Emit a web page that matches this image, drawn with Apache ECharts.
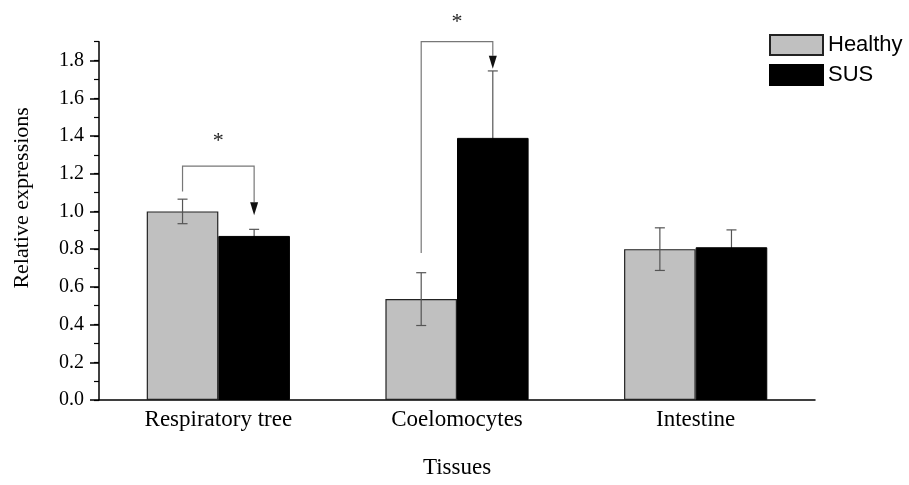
<!DOCTYPE html>
<html>
<head>
<meta charset="utf-8">
<script src="https://cdn.jsdelivr.net/npm/echarts@6/dist/echarts.min.js"></script>
<style>html,body{margin:0;padding:0;background:#fff;}#chart{width:909px;height:485px;}</style>
</head>
<body>
<div id="chart"></div>
<script>
// ---- data ----
const categories = ['Respiratory tree', 'Coelomocytes', 'Intestine'];
const healthy = [1.00, 0.535, 0.80];
const healthyErr = [0.065, 0.14, 0.113];
const sus = [0.87, 1.39, 0.81];
const susErr = [0.035, 0.355, 0.092];
const yTickValues = [0, 0.2, 0.4, 0.6, 0.8, 1.0, 1.2, 1.4, 1.6, 1.8];
// significance brackets: category index, bracket height, left line end, arrow tip, star height
const sigCategory = [0, 1];
const sigBracketTop = [1.24, 1.9];
const sigLeftEnd = [1.105, 0.78];
const sigArrowTip = [0.98, 1.756];
const sigStarY = [1.39, 2.02];
const sigLabel = ['*', '*'];

const BAR_FRAC = 0.30;
const serif = '"Liberation Serif", "Times New Roman", serif';
const sans = '"Liberation Sans", Arial, sans-serif';

function errData(vals, errs) {
  return vals.map((v, i) => [i, v, errs[i]]);
}
function makeErrRender(sign) {
  return function (params, api) {
    const i = api.value(0), v = api.value(1), e = api.value(2);
    const band = api.size([1, 0])[0];
    const c = api.coord([i, v]);
    const x = c[0] + sign * band * BAR_FRAC / 2;
    const top = api.coord([i, v + e])[1];
    const bot = api.coord([i, v - e])[1];
    const hw = 5;
    const st = { stroke: '#555', lineWidth: 1.2 };
    return {
      type: 'group',
      children: [
        { type: 'line', shape: { x1: x, y1: top, x2: x, y2: bot }, style: st },
        { type: 'line', shape: { x1: x - hw, y1: top, x2: x + hw, y2: top }, style: st },
        { type: 'line', shape: { x1: x - hw, y1: bot, x2: x + hw, y2: bot }, style: st }
      ]
    };
  };
}
const sigData = sigCategory.map((c, k) => [c, sigBracketTop[k], sigLeftEnd[k], sigArrowTip[k], sigStarY[k], k]);

const chart = echarts.init(document.getElementById('chart'), null, { renderer: 'canvas' });
chart.setOption({
  animation: false,
  backgroundColor: '#fff',
  grid: { left: 99, right: 94, top: 41.7, bottom: 85, containLabel: false },
  legend: {
    left: 769, top: 34, orient: 'vertical', padding: 0,
    itemWidth: 53, itemHeight: 20, itemGap: 8,
    icon: 'rect',
    textStyle: { fontFamily: sans, fontSize: 22, color: '#000' },
    data: ['Healthy', 'SUS']
  },
  xAxis: {
    type: 'category', data: categories,
    name: 'Tissues', nameLocation: 'middle', nameGap: 56,
    nameTextStyle: { fontFamily: serif, fontSize: 23, color: '#000' },
    axisLine: { lineStyle: { color: '#000', width: 1.5 } },
    axisTick: { show: false },
    axisLabel: { fontFamily: serif, fontSize: 23, color: '#000', margin: 8 },
    splitLine: { show: false }
  },
  yAxis: [{
    type: 'value', min: 0, max: 1.9, interval: 0.1, position: 'left',
    name: 'Relative expressions', nameLocation: 'middle', nameGap: 66, nameRotate: 90,
    nameTextStyle: { fontFamily: serif, fontSize: 22, color: '#000', padding: [0, 0, 0, 46] },
    axisLine: { show: true, lineStyle: { color: '#000', width: 1.5 } },
    axisTick: { show: true, customValues: yTickValues, length: 9, lineStyle: { color: '#000', width: 1.5 } },
    axisLabel: { customValues: yTickValues, formatter: v => Number(v).toFixed(1), fontFamily: serif, fontSize: 20, color: '#000', margin: 15 },
    splitLine: { show: false }
  }, {
    type: 'value', min: 0, max: 1.9, interval: 0.1, position: 'left',
    axisLine: { show: false },
    axisTick: { show: true, length: 5, lineStyle: { color: '#000', width: 1.2 } },
    axisLabel: { show: false },
    splitLine: { show: false }
  }],
  series: [
    {
      name: 'Healthy', type: 'bar', data: healthy, barWidth: (BAR_FRAC * 100) + '%', barGap: '0%', z: 2,
      itemStyle: { color: '#c0c0c0', borderColor: '#222', borderWidth: 1.2 }
    },
    {
      name: 'SUS', type: 'bar', data: sus, barWidth: (BAR_FRAC * 100) + '%', barGap: '0%', z: 2,
      itemStyle: { color: '#000', borderColor: '#000', borderWidth: 1 }
    },
    {
      type: 'custom', name: 'errHealthy', data: errData(healthy, healthyErr), z: 4,
      renderItem: makeErrRender(-1), encode: { x: 0, y: 1 }, silent: true
    },
    {
      type: 'custom', name: 'errSus', data: errData(sus, susErr), z: 1,
      renderItem: makeErrRender(1), encode: { x: 0, y: 1 }, silent: true
    },
    {
      type: 'custom', name: 'sig', data: sigData, z: 5, clip: false, silent: true,
      encode: { x: 0, y: 1 },
      renderItem: function (params, api) {
        const i = api.value(0);
        const band = api.size([1, 0])[0];
        const cx = api.coord([i, 0])[0];
        const xl = cx - band * BAR_FRAC / 2;
        const xr = cx + band * BAR_FRAC / 2;
        const yTop = api.coord([i, api.value(1)])[1];
        const yLeft = api.coord([i, api.value(2)])[1];
        const yTip = api.coord([i, api.value(3)])[1];
        const yStar = api.coord([i, api.value(4)])[1];
        const st = { stroke: '#777', lineWidth: 1.2 };
        const ah = 13, aw = 4;
        return {
          type: 'group',
          children: [
            { type: 'polyline', shape: { points: [[xl, yLeft], [xl, yTop], [xr, yTop], [xr, yTip - ah]] }, style: Object.assign({ fill: null }, st) },
            { type: 'polygon', shape: { points: [[xr - aw, yTip - ah], [xr + aw, yTip - ah], [xr, yTip]] }, style: { fill: '#111' } },
            { type: 'text', x: cx, y: yStar + 3, style: { text: sigLabel[api.value(5)], fontFamily: serif, fontSize: 22, fill: '#222', align: 'center', verticalAlign: 'middle' } }
          ]
        };
      }
    }
  ]
});
</script>
</body>
</html>
